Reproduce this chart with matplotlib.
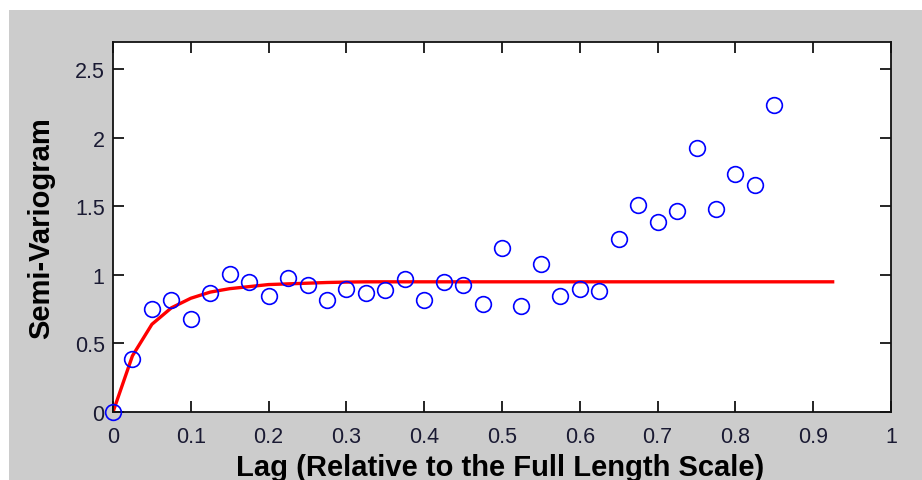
import matplotlib
matplotlib.use("Agg")
import matplotlib.pyplot as plt
from matplotlib.patches import Rectangle
import numpy as np

# Empirical semi-variogram (lag, value)
lags = [0.0, 0.025, 0.05, 0.075, 0.1, 0.125, 0.15, 0.175, 0.2, 0.225, 0.25,
        0.275, 0.3, 0.325, 0.35, 0.375, 0.4, 0.425, 0.45, 0.475, 0.5, 0.525,
        0.55, 0.575, 0.6, 0.625, 0.65, 0.675, 0.7, 0.725, 0.75, 0.775, 0.8,
        0.825, 0.85]
gamma = [0.0, 0.39, 0.75, 0.82, 0.68, 0.87, 1.01, 0.95, 0.85, 0.98, 0.93,
         0.82, 0.90, 0.87, 0.89, 0.97, 0.82, 0.95, 0.93, 0.79, 1.20, 0.77,
         1.08, 0.85, 0.90, 0.88, 1.26, 1.51, 1.39, 1.47, 1.93, 1.48, 1.74,
         1.66, 2.24]

# Fitted model curve (lag, value)
model_lags = [0.0, 0.025, 0.05, 0.075, 0.1, 0.125, 0.15, 0.175, 0.2, 0.225,
              0.25, 0.275, 0.3, 0.325, 0.35, 0.375, 0.4, 0.425, 0.45, 0.475,
              0.5, 0.525, 0.55, 0.575, 0.6, 0.625, 0.65, 0.675, 0.7, 0.725,
              0.75, 0.775, 0.8, 0.825, 0.85, 0.875, 0.9, 0.925]
model_gamma = [0.0, 0.41, 0.64, 0.76, 0.83, 0.875, 0.90, 0.915, 0.93, 0.935,
               0.94, 0.945, 0.948, 0.95, 0.95, 0.95, 0.95, 0.95, 0.95, 0.95,
               0.95, 0.95, 0.95, 0.95, 0.95, 0.95, 0.95, 0.95, 0.95, 0.95,
               0.95, 0.95, 0.95, 0.95, 0.95, 0.95, 0.95, 0.95]

xticks = [0, 0.1, 0.2, 0.3, 0.4, 0.5, 0.6, 0.7, 0.8, 0.9, 1]
xticklabels = ["0", "0.1", "0.2", "0.3", "0.4", "0.5", "0.6", "0.7", "0.8", "0.9", "1"]
yticks = [0, 0.5, 1, 1.5, 2, 2.5]
yticklabels = ["0", "0.5", "1", "1.5", "2", "2.5"]

plt.rcParams['font.family'] = ['Liberation Sans', 'DejaVu Sans']

W, H = 922, 481
fig = plt.figure(figsize=(W / 100, H / 100), dpi=100, facecolor='white')
fig.patches.append(Rectangle((9 / W, 0), 1 - 9 / W, 1 - 11 / H,
                             transform=fig.transFigure, facecolor='#cccccc',
                             edgecolor='none', zorder=-10))

ax = fig.add_axes([113 / W, 1 - 413 / H, (891 - 113) / W, (413 - 43) / H])
ax.set_facecolor('white')

ax.plot(model_lags, model_gamma, color='#ff0000', lw=2.4, zorder=2)
ax.plot(lags, gamma, linestyle='none', marker='o', markersize=11.3,
        markerfacecolor='none', markeredgecolor='#0000ff', markeredgewidth=1.2,
        zorder=3, clip_on=False)

ax.set_xlim(0, 1)
ax.set_ylim(0, 2.7)
ax.set_xticks(xticks)
ax.set_xticklabels(xticklabels)
ax.set_yticks(yticks)
ax.set_yticklabels(yticklabels)
ax.tick_params(direction='in', length=8, width=1.2, top=True, right=True,
               labelsize=15.5, labelcolor='#1a1a33')
ax.tick_params(axis='x', pad=10)
ax.tick_params(axis='y', pad=6)
for s in ax.spines.values():
    s.set_linewidth(1.3)
    s.set_color('#111111')

ax.set_xlabel("Lag (Relative to the Full Length Scale)", fontsize=21,
              fontweight='bold')
ax.set_ylabel("Semi-Variogram", fontsize=21, fontweight='bold')
ax.xaxis.set_label_coords(0.497, -0.111)
ax.yaxis.set_label_coords(-0.0746, 0.5)

fig.savefig("out.png", dpi=100, facecolor=fig.get_facecolor())
